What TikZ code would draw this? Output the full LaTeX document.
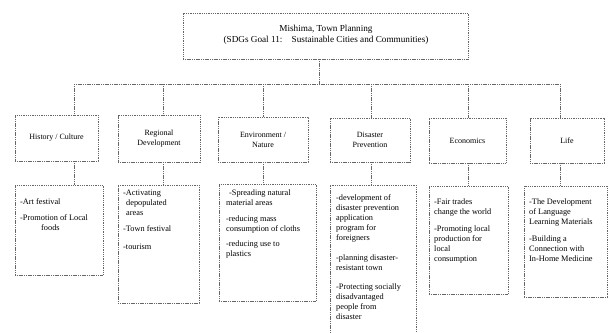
\documentclass[tikz,border=0pt]{standalone}
\usepackage{fontspec}
\setmainfont{Liberation Serif}
\begin{document}
\begin{tikzpicture}[x=1pt,y=-1pt,
  box/.style={draw=black!60, line width=0.8pt, dash pattern=on 1.1pt off 0.7pt, inner sep=0pt, outer sep=0pt, fill=white},
  conn/.style={draw=black!60, line width=0.8pt, dash pattern=on 1.1pt off 0.7pt},
  lbl/.style={font=\fontsize{8}{10}\selectfont, align=center, inner sep=0pt},
  toplbl/.style={font=\fontsize{9.2}{10.5}\selectfont, align=center, inner sep=0pt},
  itm/.style={font=\fontsize{8.3}{10}\selectfont, align=left, anchor=north west, inner sep=0pt}]
\fill[white] (0,0) rectangle (609,332);
\useasboundingbox (0,0) rectangle (609,332);
\clip (0,0) rectangle (609,332);
% top
\node[box, minimum width=285, minimum height=46] (top) at (325.5,36) {};
\node[toplbl] (toptxt) at (326,35) {Mishima, Town Planning\\(SDGs Goal 11:\quad Sustainable Cities and Communities)};
% bus coordinates
\coordinate (dm) at (319,84);
\coordinate (d1) at (74,84);
\coordinate (d2) at (163,84);
\coordinate (d3) at (263,84);
\coordinate (d4) at (371,84);
\coordinate (d5) at (468,84);
\coordinate (d6) at (560,84);
% level 1
\node[box, minimum width=83, minimum height=46] (b1) at (56.5,138) {};
\node[box, minimum width=82, minimum height=47] (b2) at (159,138.5) {};
\node[box, minimum width=90, minimum height=45] (b3) at (263,139.5) {};
\node[box, minimum width=80, minimum height=44] (b4) at (370,140) {};
\node[box, minimum width=77, minimum height=45] (b5) at (467.5,140.5) {};
\node[box, minimum width=74, minimum height=45] (b6) at (567,140.5) {};
\node[lbl] (t1) at (b1) {History / Culture};
\node[lbl] (t2) at (b2) {Regional\\Development};
\node[lbl] (t3) at (b3) {Environment /\\Nature};
\node[lbl] (t4) at (b4) {Disaster\\Prevention};
\node[lbl] (t5) at (b5) {Economics};
\node[lbl] (t6) at (b6) {Life};
% level 2
\node[box, minimum width=88, minimum height=90] (c1) at (59,230) {};
\node[box, minimum width=81, minimum height=118] (c2) at (158.5,244) {};
\node[box, minimum width=97, minimum height=117] (c3) at (267.5,242.5) {};
\node[box, minimum width=86, minimum height=160] (c4) at (373,265) {};
\node[box, minimum width=79, minimum height=108] (c5) at (468.5,240) {};
\node[box, minimum width=83, minimum height=111] (c6) at (565.5,241.5) {};
\node[itm] (i1) at (20,198) {-Art festival\\[6pt]-Promotion of Local\\\hspace*{21pt}foods};
\node[itm] (i2) at (123,190) {-Activating\\\hspace*{3pt}depopulated\\\hspace*{3pt}areas\\[6pt]-Town festival\\[8pt]-tourism};
\node[itm] (i3) at (226,190) {\hspace*{3pt}-Spreading natural\\material areas\\[6pt]-reducing mass\\consumption of cloths\\[5pt]-reducing use to\\plastics};
\node[itm] (i4) at (336,194) {-development of\\disaster prevention\\application\\program for\\foreigners\\[10pt]-planning disaster-\\resistant town\\[9pt]-Protecting socially\\disadvantaged\\people from\\disaster};
\node[itm] (i5) at (434,199) {-Fair trades\\change the world\\[7pt]-Promoting local\\production for\\local\\consumption};
\node[itm] (i6) at (529,199) {-The Development\\of Language\\Learning Materials\\[7pt]-Building a\\Connection with\\In-Home Medicine};
% connectors
\draw[conn] (top.south -| dm) -- (dm);
\draw[conn] (d1) -- (d6);
\foreach \i in {1,...,6}{
  \draw[conn] (d\i) -- (d\i |- b\i.north);
  \draw[conn] (b\i.south -| d\i) -- (c\i.north -| d\i);
}
\end{tikzpicture}
\end{document}
